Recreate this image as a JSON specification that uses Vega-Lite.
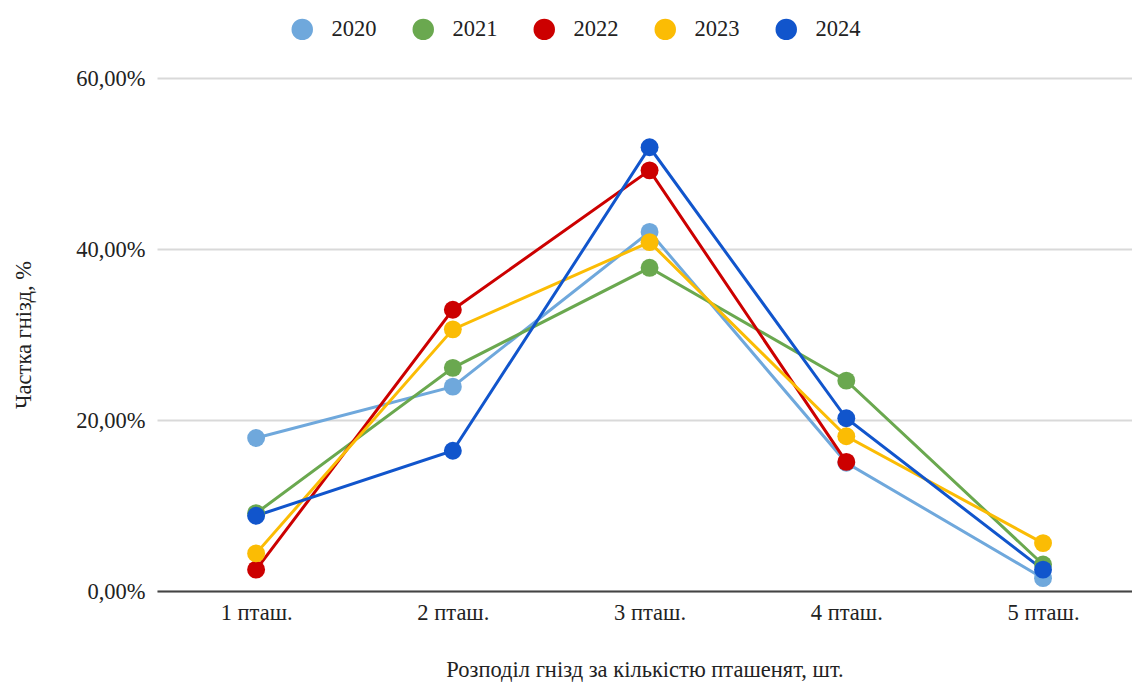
{
  "$schema": "https://vega.github.io/schema/vega-lite/v6.json",
  "width": 975,
  "height": 513,
  "autosize": {"type": "none"},
  "padding": {"left": 157, "top": 78, "right": 0, "bottom": 95},
  "background": "white",
  "config": {
    "font": "Liberation Serif",
    "view": {"stroke": null},
    "axis": {
      "labelFont": "Liberation Serif",
      "titleFont": "Liberation Serif",
      "labelFontSize": 22.5,
      "titleFontSize": 22.5,
      "labelColor": "#222222",
      "titleColor": "#222222",
      "titleFontWeight": "normal"
    },
    "legend": {
      "labelFont": "Liberation Serif",
      "labelFontSize": 22.5,
      "labelColor": "#222222"
    }
  },
  "data": {
    "values": [
      {"cat": "1 пташ.", "year": "2020", "share": 17.9},
      {"cat": "2 пташ.", "year": "2020", "share": 23.9},
      {"cat": "3 пташ.", "year": "2020", "share": 42.0},
      {"cat": "4 пташ.", "year": "2020", "share": 15.0},
      {"cat": "5 пташ.", "year": "2020", "share": 1.5},
      {"cat": "1 пташ.", "year": "2021", "share": 9.1},
      {"cat": "2 пташ.", "year": "2021", "share": 26.1},
      {"cat": "3 пташ.", "year": "2021", "share": 37.8},
      {"cat": "4 пташ.", "year": "2021", "share": 24.6},
      {"cat": "5 пташ.", "year": "2021", "share": 3.1},
      {"cat": "1 пташ.", "year": "2022", "share": 2.5},
      {"cat": "2 пташ.", "year": "2022", "share": 32.9},
      {"cat": "3 пташ.", "year": "2022", "share": 49.2},
      {"cat": "4 пташ.", "year": "2022", "share": 15.1},
      {"cat": "1 пташ.", "year": "2023", "share": 4.4},
      {"cat": "2 пташ.", "year": "2023", "share": 30.6},
      {"cat": "3 пташ.", "year": "2023", "share": 40.8},
      {"cat": "4 пташ.", "year": "2023", "share": 18.1},
      {"cat": "5 пташ.", "year": "2023", "share": 5.6},
      {"cat": "1 пташ.", "year": "2024", "share": 8.8},
      {"cat": "2 пташ.", "year": "2024", "share": 16.4},
      {"cat": "3 пташ.", "year": "2024", "share": 51.9},
      {"cat": "4 пташ.", "year": "2024", "share": 20.2},
      {"cat": "5 пташ.", "year": "2024", "share": 2.5}
    ]
  },
  "mark": {
    "type": "line",
    "strokeWidth": 3,
    "point": {"filled": true, "size": 320, "opacity": 1}
  },
  "encoding": {
    "x": {
      "field": "cat",
      "type": "nominal",
      "sort": null,
      "scale": {"padding": 0.478, "align": 0.527},
      "axis": {
        "title": "Розподіл гнізд за кількістю пташенят, шт.",
        "labelAngle": 0,
        "labelPadding": 10,
        "titlePadding": 35,
        "ticks": false,
        "domainColor": "#444444",
        "domainWidth": 2,
        "grid": false
      }
    },
    "y": {
      "field": "share",
      "type": "quantitative",
      "scale": {"domain": [0, 60], "nice": false},
      "axis": {
        "title": "Частка гнізд, %",
        "values": [0, 20, 40, 60],
        "labelExpr": "replace(format(datum.value, '.2f'), '.', ',') + '%'",
        "labelPadding": 12,
        "titlePadding": 40,
        "ticks": false,
        "domain": false,
        "gridColor": "#d9d9d9",
        "gridWidth": 2
      }
    },
    "color": {
      "field": "year",
      "type": "nominal",
      "scale": {
        "domain": ["2020", "2021", "2022", "2023", "2024"],
        "range": ["#6fa8dc", "#6aa84f", "#cc0000", "#fbbc04", "#1155cc"]
      },
      "legend": {
        "title": null,
        "orient": "none",
        "direction": "horizontal",
        "legendX": 134,
        "legendY": -60,
        "padding": 0,
        "symbolType": "circle",
        "symbolSize": 460,
        "symbolStrokeWidth": 0,
        "symbolOpacity": 1,
        "labelOffset": 18,
        "columnPadding": 35
      }
    }
  }
}
